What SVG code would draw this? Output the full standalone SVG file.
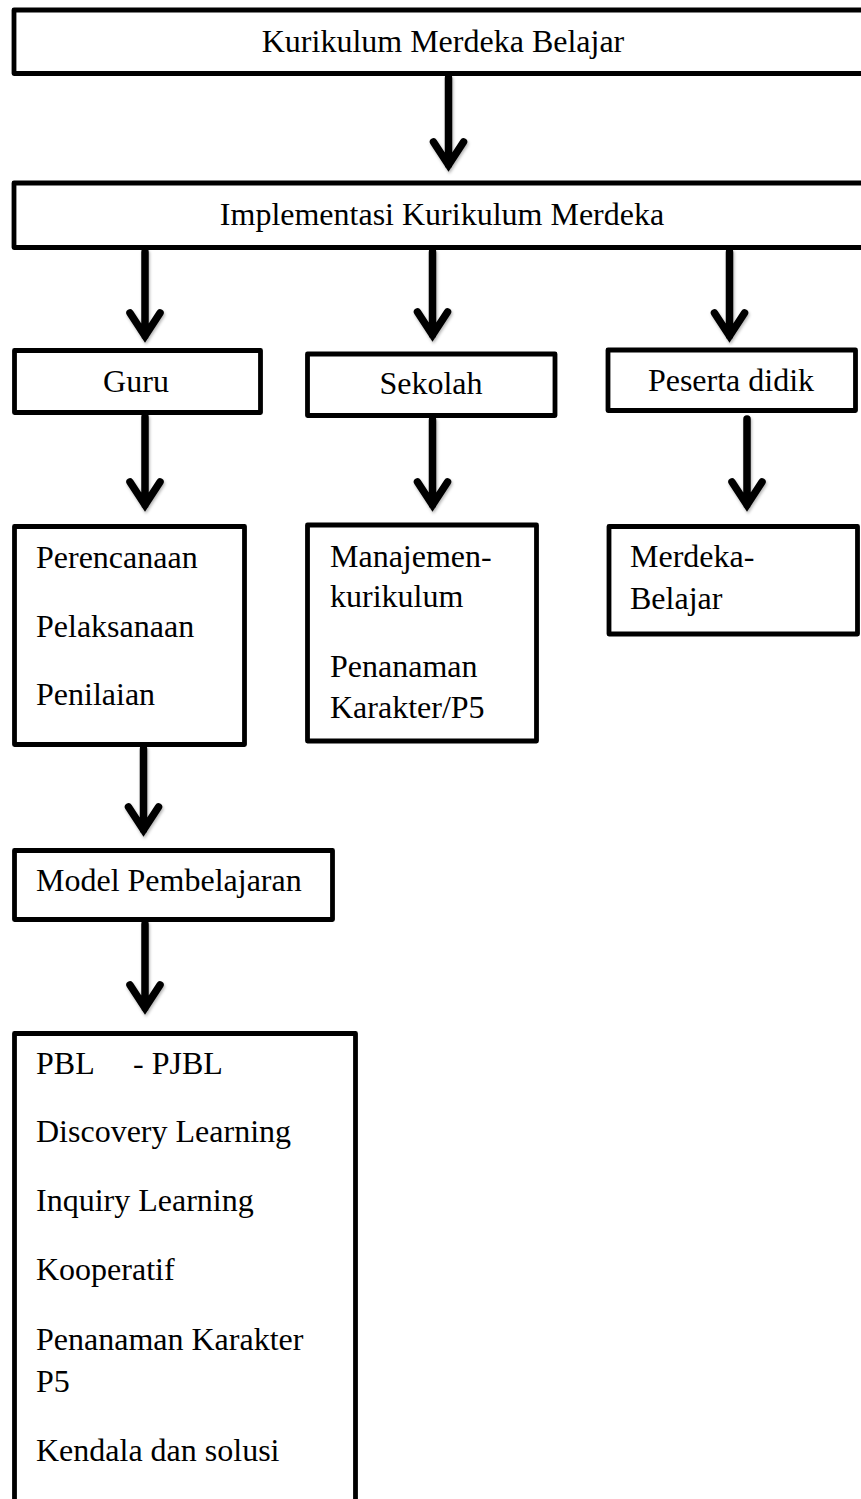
<svg xmlns="http://www.w3.org/2000/svg" width="861" height="1499" viewBox="0 0 861 1499">
<style>
.box{fill:#fff;stroke:#000;stroke-width:4.8;stroke-linejoin:round}
.t{font-family:"Liberation Serif","Times New Roman",serif;font-size:32px;fill:#000}
.c{text-anchor:middle}
.arr{fill:none;stroke:#000;stroke-width:7.5;stroke-linecap:round;stroke-linejoin:miter}
</style>
<defs>
<filter id="sh" x="-20%" y="-20%" width="140%" height="140%">
<feDropShadow dx="1" dy="2" stdDeviation="1.5" flood-color="#000" flood-opacity="0.3"/>
</filter>
</defs>
<rect width="861" height="1499" fill="#fff"/>
<g id="connectors" filter="url(#sh)">
<path class="arr" d="M448.5 78 V165 M433.5 142 L448.5 165 L463.5 142"/>
<path class="arr" d="M145 252 V336 M130 313 L145 336 L160 313"/>
<path class="arr" d="M432.5 252 V335 M417.5 312 L432.5 335 L447.5 312"/>
<path class="arr" d="M729.5 252 V336 M714.5 313 L729.5 336 L744.5 313"/>
<path class="arr" d="M145 417 V505 M130 482 L145 505 L160 482"/>
<path class="arr" d="M432.5 420 V505 M417.5 482 L432.5 505 L447.5 482"/>
<path class="arr" d="M747 419 V505 M732 482 L747 505 L762 482"/>
<path class="arr" d="M143.5 749 V830 M128.5 807 L143.5 830 L158.5 807"/>
<path class="arr" d="M145 924 V1008 M130 985 L145 1008 L160 985"/>
</g>
<g id="n1"><rect class="box" x="14" y="10" width="870" height="63.5"/><text class="t c" x="443" y="52">Kurikulum Merdeka Belajar</text></g>
<g id="n2"><rect class="box" x="14" y="183" width="870" height="64.5"/><text class="t c" x="442" y="225">Implementasi Kurikulum Merdeka</text></g>
<g id="guru"><rect class="box" x="14.5" y="350.5" width="246" height="62"/><text class="t c" x="136" y="392">Guru</text></g>
<g id="sekolah"><rect class="box" x="307.5" y="354" width="247.5" height="61.5"/><text class="t c" x="431" y="394">Sekolah</text></g>
<g id="peserta"><rect class="box" x="608" y="350" width="247.5" height="60.5"/><text class="t c" x="731" y="391">Peserta didik</text></g>
<g id="guru-detail"><rect class="box" x="14.5" y="526.5" width="230" height="218"/>
<text class="t" x="36" y="568">Perencanaan</text>
<text class="t" x="36" y="636.5">Pelaksanaan</text>
<text class="t" x="36" y="705">Penilaian</text></g>
<g id="sekolah-detail"><rect class="box" x="307.5" y="525" width="229" height="216"/>
<text class="t" x="330" y="567">Manajemen-</text>
<text class="t" x="330" y="607">kurikulum</text>
<text class="t" x="330" y="677">Penanaman</text>
<text class="t" x="330" y="718">Karakter/P5</text></g>
<g id="peserta-detail"><rect class="box" x="609" y="526.5" width="248.5" height="107.5"/>
<text class="t" x="630" y="567">Merdeka-</text>
<text class="t" x="630" y="609">Belajar</text></g>
<g id="model"><rect class="box" x="14.5" y="850.5" width="318" height="69"/><text class="t" x="36" y="890.5">Model Pembelajaran</text></g>
<g id="model-list"><rect class="box" x="14.5" y="1033.5" width="341" height="490"/>
<text class="t" x="36" y="1073.5">PBL<tspan x="133">- PJBL</tspan></text>
<text class="t" x="36" y="1141.5">Discovery Learning</text>
<text class="t" x="36" y="1211">Inquiry Learning</text>
<text class="t" x="36" y="1280">Kooperatif</text>
<text class="t" x="36" y="1350">Penanaman Karakter</text>
<text class="t" x="36" y="1391.5">P5</text>
<text class="t" x="36" y="1460.5">Kendala dan solusi</text></g>
</svg>
